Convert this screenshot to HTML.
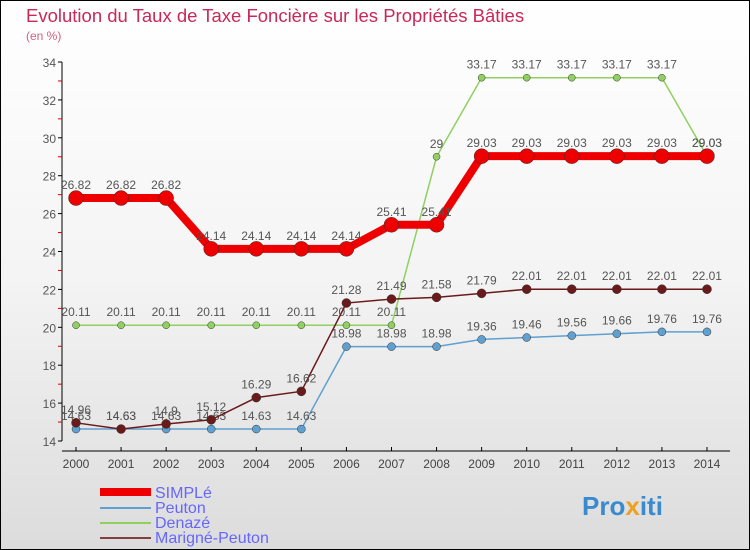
<!DOCTYPE html>
<html><head><meta charset="utf-8"><style>
body{margin:0;}
#c{width:750px;height:550px;position:relative;background:linear-gradient(#ffffff,#f4f4f4 50%,#dcdcdc);box-sizing:border-box;border:1px solid #000;font-family:"Liberation Sans",sans-serif;overflow:hidden;}
</style></head><body>
<div id="c">
<svg width="750" height="550" style="position:absolute;left:-1px;top:-1px">
<text x="26" y="22" font-size="18.5" fill="#c8285a">Evolution du Taux de Taxe Foncière sur les Propriétés Bâties</text>
<text x="26" y="40" font-size="12" fill="#d06080">(en %)</text>
<g id="axes"></g><g id="series"></g>
<g font-size="16" fill="#6666ff">
<rect x="100" y="488" width="51" height="8" fill="#e00"/>
<text x="155" y="498">SIMPLé</text>
<line x1="100" y1="508" x2="151" y2="508" stroke="#5fa0d0" stroke-width="2"/>
<text x="155" y="513">Peuton</text>
<line x1="100" y1="523" x2="151" y2="523" stroke="#90d060" stroke-width="2"/>
<text x="155" y="528">Denazé</text>
<line x1="100" y1="538" x2="151" y2="538" stroke="#804040" stroke-width="2"/>
<text x="155" y="543">Marigné-Peuton</text>
</g>
<text x="582" y="515" font-size="26" font-weight="bold" fill="#3a8ad0">Pro<tspan fill="#f0a020">x</tspan>iti</text>
</svg>
</div>
<script>
const years=[2000,2001,2002,2003,2004,2005,2006,2007,2008,2009,2010,2011,2012,2013,2014];
const yTicks=[14,16,18,20,22,24,26,28,30,32,34];
const simple=[26.82,26.82,26.82,24.14,24.14,24.14,24.14,25.41,25.41,29.03,29.03,29.03,29.03,29.03,29.03];
const peuton=[14.63,14.63,14.63,14.63,14.63,14.63,18.98,18.98,18.98,19.36,19.46,19.56,19.66,19.76,19.76];
const denaze=[20.11,20.11,20.11,20.11,20.11,20.11,20.11,20.11,29,33.17,33.17,33.17,33.17,33.17,29.03];
const marigne=[14.96,14.63,14.9,15.12,16.29,16.62,21.28,21.49,21.58,21.79,22.01,22.01,22.01,22.01,22.01];
const NS="http://www.w3.org/2000/svg";
const X=i=>76+i*45.07, Y=v=>441-(v-14)*18.95;
function mk(t,a,p){const e=document.createElementNS(NS,t);for(const k in a)e.setAttribute(k,a[k]);p.appendChild(e);return e;}
const ax=document.getElementById('axes'),sg=document.getElementById('series');
mk('line',{x1:62,y1:Y(34),x2:62,y2:Y(14),stroke:'#000'},ax);
mk('line',{x1:62,y1:451,x2:730,y2:451,stroke:'#000'},ax);
yTicks.forEach(v=>{mk('line',{x1:58,y1:Y(v),x2:62,y2:Y(v),stroke:'#000'},ax);
 mk('line',{x1:58,y1:Y(v+1),x2:62,y2:Y(v+1),stroke:v<34?'#d00':'none'},ax);
 const t=mk('text',{x:56,y:Y(v)+5,'text-anchor':'end','font-size':12,fill:'#555'},ax);
 
 t.textContent=v;});
years.forEach((y,i)=>{mk('line',{x1:X(i),y1:447,x2:X(i),y2:451,stroke:'#000'},ax);
 const t=mk('text',{x:X(i),y:468,'text-anchor':'middle','font-size':12,fill:'#444'},ax);
 
 t.textContent=y;});
function series(d,col,w,r,name,off){
 const g=mk('g',{},sg);
 
 
 mk('polyline',{points:d.map((v,i)=>X(i)+','+Y(v)).join(' '),fill:'none',stroke:col,'stroke-width':w},g);
 d.forEach((v,i)=>{const c=mk('circle',{cx:X(i),cy:Y(v),r:r,fill:col,stroke:'#333','stroke-width':0.5},g);
  
  
  const t=mk('text',{x:X(i),y:Y(v)+off,'text-anchor':'middle','font-size':12,fill:'#555'},g);
  t.textContent=v;});
}
series(denaze,'#90d060',1.5,3.5,'series-denaze',-9);
series(peuton,'#5fa0d0',1.5,4,'series-peuton',-9);
series(marigne,'#6a1a1a',1.5,4.5,'series-marigne-peuton',-9);
series(simple,'#ee0000',8,7.5,'series-simple',-9);
</script>
</body></html>
